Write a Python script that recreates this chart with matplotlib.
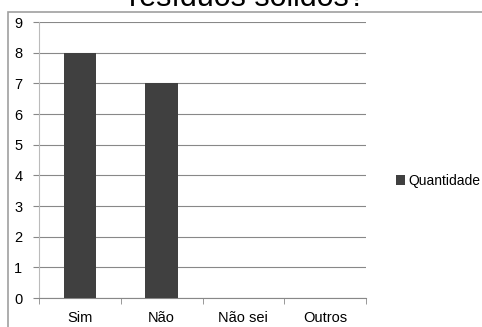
import matplotlib.pyplot as plt
from matplotlib.patches import Rectangle

plt.rcParams['font.family'] = ['Liberation Sans', 'DejaVu Sans']

# respostas da pesquisa
categorias = ['Sim', 'Não', 'Não sei', 'Outros']
quantidade = [8, 7, 0, 0]
titulo = 'resíduos sólidos?'
serie = 'Quantidade'

fig = plt.figure(figsize=(4.82, 3.27), dpi=100)

# moldura do gráfico
fig.patches.append(Rectangle((8/482, -0.1), 480/482, 1.1 - 12/327,
                             transform=fig.transFigure, fill=False,
                             edgecolor='#a0a0a0', linewidth=1.2))

ax = fig.add_axes([39/482, 1 - 298/327, 327/482, 276/327])
x = range(len(categorias))
ax.bar(x, quantidade, width=0.4, color='#404040', label=serie, zorder=3)

ax.set_xlim(-0.5, len(categorias) - 0.5)
ax.set_ylim(0, 9)
ax.set_yticks(range(0, 10))
ax.set_xticks(list(x))
ax.set_xticklabels(categorias)
ax.set_xticks([i - 0.5 for i in range(len(categorias) + 1)], minor=True)
ax.tick_params(axis='x', which='major', length=0, pad=9, labelsize=10.5)
ax.tick_params(axis='x', which='minor', length=4, color='#888888')
ax.tick_params(axis='y', length=4, color='#888888', labelsize=10.5, pad=8)
ax.grid(axis='y', color='#888888', linewidth=0.8, zorder=0)

for s in ['top', 'right']:
    ax.spines[s].set_visible(False)
ax.spines['left'].set_color('#bbbbbb')
ax.spines['bottom'].set_color('#888888')

fig.text(247/482, 1 - 5.5/327, titulo, ha='center', va='baseline', fontsize=22)

fig.legend(loc='center left', bbox_to_anchor=(390/482, 1 - 181/327),
           frameon=False, fontsize=10, handlelength=0.65, handleheight=0.65,
           handletextpad=0.25, borderaxespad=0)

fig.savefig('out.png', dpi=100)
